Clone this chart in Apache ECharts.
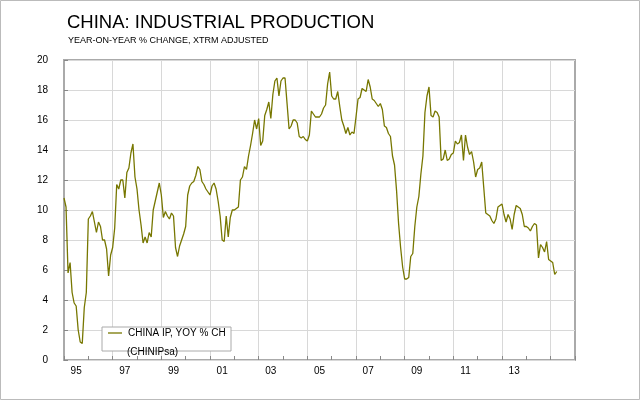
<!DOCTYPE html>
<html><head><meta charset="utf-8">
<script src="https://cdn.jsdelivr.net/npm/echarts@6/dist/echarts.min.js"></script>
<style>html,body{margin:0;padding:0;background:#fff}#c{width:640px;height:400px}</style>
</head><body><div id="c"></div>
<script>
const startYear = 1995;
const endYear = 2016; // axis ends Jan 2016
const yTicks = [0,2,4,6,8,10,12,14,16,18,20];
const ipValues = [
10.8,10.2,5.8,6.5,4.5,3.8,3.6,2.0,1.2,1.1,3.5,4.5,
9.4,9.6,9.9,9.2,8.5,9.2,8.9,8.0,8.0,7.4,5.6,7.0,
7.5,8.8,11.7,11.4,12.0,12.0,10.8,12.5,12.8,13.8,14.4,12.2,
11.4,10.0,9.0,7.8,8.2,7.8,8.5,8.2,10.0,10.6,11.2,11.8,
11.0,9.5,9.9,9.6,9.4,9.8,9.6,7.5,6.9,7.6,8.0,8.4,
8.9,11.0,11.6,11.8,11.9,12.3,12.9,12.7,11.9,11.7,11.4,11.2,
11.0,11.6,11.8,11.4,10.6,9.6,8.0,7.9,9.6,8.2,9.5,10.0,
10.0,10.1,10.2,
12.0,12.2,12.9,12.7,13.6,14.3,15.1,16.0,15.4,16.1,
14.3,14.6,16.3,16.7,17.2,16.1,17.7,18.6,18.8,17.6,
18.6,18.8,18.8,17.1,15.4,15.6,16.0,16.0,15.8,14.9,
14.8,14.9,14.7,14.6,15.0,16.6,16.4,16.2,16.2,16.2,
16.4,16.8,17.0,18.4,19.2,17.6,17.4,17.4,17.9,16.9,
16.0,15.6,15.1,15.5,15.0,15.2,15.1,16.2,17.4,17.5,
18.1,18.0,17.9,18.7,18.2,17.4,17.3,17.1,16.9,17.1,16.7,
15.6,15.5,15.1,14.9,13.6,13.0,11.3,9.1,7.5,6.2,5.4,
5.4,5.5,6.9,7.1,8.9,10.2,10.9,12.4,13.6,16.5,
17.6,18.2,
16.3,16.2,16.6,16.5,16.2,13.3,13.4,14.0,13.3,13.4,
13.7,13.8,14.6,14.4,14.5,15.0,13.3,15.0,14.2,13.7,
13.9,13.2,12.2,12.7,12.8,13.2,11.5,9.8,9.7,9.6,
9.3,9.1,9.4,10.2,10.3,10.4,9.7,9.2,9.7,9.4,
8.7,9.7,10.3,10.2,10.1,9.7,8.9,8.9,8.8,8.6,
8.9,9.1,9.0,6.8,7.7,7.5,7.2,7.9,6.7,6.6,
6.5,5.7,5.9
];
const months = [];
for (let y = startYear; y < endYear; y++) for (let m = 1; m <= 12; m++) months.push(y + '-' + m);
months.push(endYear + '-1');
const data = months.map((_, i) => i < ipValues.length ? ipValues[i] : null);
const isJan = (i) => i % 12 === 0;
const chart = echarts.init(document.getElementById('c'));
chart.setOption({
  animation: false,
  backgroundColor: '#fff',
  title: [
    {text: 'CHINA: INDUSTRIAL PRODUCTION', left: 62, top: 8,
     textStyle: {fontFamily: 'Liberation Sans', fontSize: 18.5, fontWeight: 'normal', color: '#000'}},
    {text: 'YEAR-ON-YEAR % CHANGE, XTRM ADJUSTED', left: 63, top: 31,
     textStyle: {fontFamily: 'Liberation Sans', fontSize: 9, fontWeight: 'normal', color: '#000'}}
  ],
  grid: {left: 64, right: 65, top: 60, bottom: 40, show: true, borderColor: '#aaa', borderWidth: 2},
  xAxis: {
    type: 'category', data: months, boundaryGap: false,
    axisLine: {show: false},
    axisTick: {show: true, inside: true, length: 4, interval: (i) => isJan(i), lineStyle: {color: '#888'}},
    axisLabel: {interval: (i) => (i % 24) === 6 && i < 240,
      formatter: (v) => v.split('-')[0].slice(2),
      fontFamily: 'Liberation Sans', fontSize: 10, color: '#000', margin: 6},
    splitLine: {show: true, interval: (i) => (i % 24) === 0 && i > 0, lineStyle: {color: '#d8d8d8', width: 1}}
  },
  yAxis: {
    type: 'value', min: 0, max: 20, interval: 2,
    axisLine: {show: false}, axisTick: {show: true, inside: true, length: 4, lineStyle: {color: '#888'}},
    axisLabel: {fontFamily: 'Liberation Sans', fontSize: 10, color: '#000', margin: 16,
      formatter: (v) => yTicks.includes(v) ? String(v) : ''},
    splitLine: {lineStyle: {color: '#d8d8d8', width: 1}}
  },
  series: [{type: 'line', data: data, showSymbol: false, connectNulls: false,
    lineStyle: {color: '#777700', width: 1.3}, itemStyle: {color: '#777700'}}],
  graphic: [
    {type: 'rect', shape: {x: 0.5, y: 0.5, width: 639, height: 399}, style: {fill: 'none', stroke: '#bbb', lineWidth: 1}, silent: true},
    {type: 'rect', shape: {x: 102, y: 327, width: 129, height: 24}, style: {fill: '#fff', stroke: '#aaa', lineWidth: 1}, z: 100},
    {type: 'line', shape: {x1: 108, y1: 333, x2: 122, y2: 333}, style: {stroke: '#777700', lineWidth: 1.3}, z: 101},
    {type: 'text', x: 128, y: 328, style: {text: 'CHINA IP, YOY % CH', font: '10px "Liberation Sans"', fill: '#000'}, z: 101},
    {type: 'text', x: 127, y: 347, style: {text: '(CHINIPsa)', font: '10px "Liberation Sans"', fill: '#000'}, z: 101}
  ]
});
</script></body></html>
